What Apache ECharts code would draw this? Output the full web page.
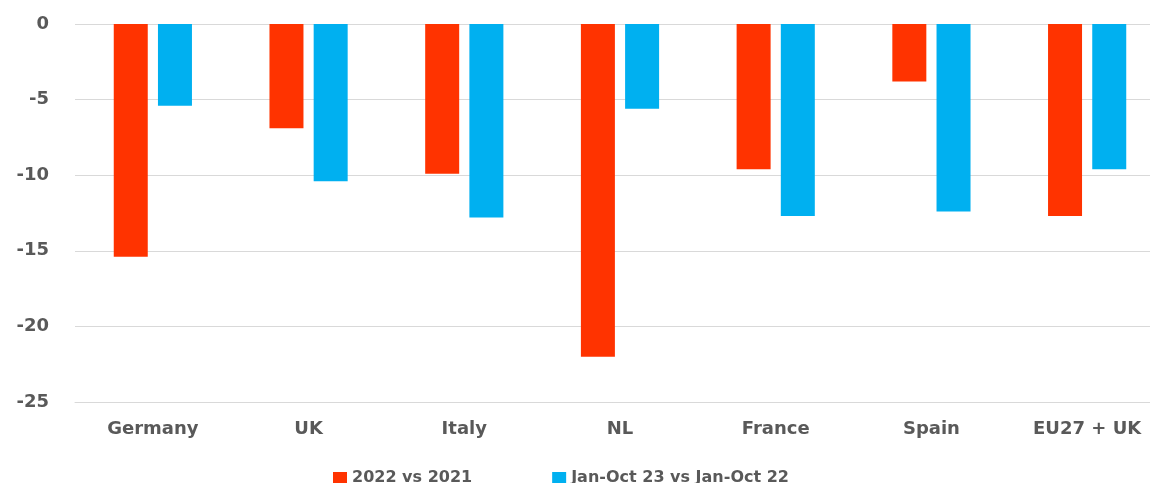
<!DOCTYPE html>
<html>
<head>
<meta charset="utf-8">
<script src="https://cdn.jsdelivr.net/npm/echarts@6/dist/echarts.min.js"></script>
<style>
html,body{margin:0;padding:0;background:#fff;}
#chart{width:1150px;height:483px;}
</style>
</head>
<body>
<div id="chart"></div>
<script>
const categories = ['Germany', 'UK', 'Italy', 'NL', 'France', 'Spain', 'EU27 + UK'];
const series2022 = [-15.4, -6.9, -9.9, -22.0, -9.6, -3.8, -12.7];
const seriesJanOct = [-5.4, -10.4, -12.8, -5.6, -12.7, -12.4, -9.6];
const seriesNames = ['2022 vs 2021', 'Jan-Oct 23 vs Jan-Oct 22'];
const yTicks = { min: -25, max: 0, interval: 5 };

const chart = echarts.init(document.getElementById('chart'));
const font = 'DejaVu Sans';
chart.setOption({
  animation: false,
  backgroundColor: '#ffffff',
  grid: { left: 75, top: 24, bottom: 81, width: 1090, outerBoundsMode: 'none', containLabel: false },
  legend: {
    data: seriesNames,
    top: 465,
    left: 328,
    itemWidth: 14,
    itemHeight: 12,
    itemGap: 80,
    icon: 'rect',
    textStyle: { fontFamily: font, fontWeight: 'bold', fontSize: 16, color: '#595959' }
  },
  xAxis: {
    type: 'category',
    data: categories,
    axisLine: { onZero: false, lineStyle: { color: '#d9d9d9', width: 1 } },
    axisTick: { show: false },
    axisLabel: { margin: 18, fontFamily: font, fontWeight: 'bold', fontSize: 18, color: '#595959' }
  },
  yAxis: {
    type: 'value',
    min: yTicks.min,
    max: yTicks.max,
    interval: yTicks.interval,
    axisLine: { show: false },
    axisTick: { show: false },
    splitLine: { lineStyle: { color: '#d9d9d9', width: 1 } },
    axisLabel: { margin: 26, fontFamily: font, fontWeight: 'bold', fontSize: 18, color: '#595959' }
  },
  series: [
    { name: seriesNames[0], type: 'bar', data: series2022, barWidth: 34, barGap: '30%', itemStyle: { color: '#FF3300' } },
    { name: seriesNames[1], type: 'bar', data: seriesJanOct, barWidth: 34, barGap: '30%', itemStyle: { color: '#00B0F0' } }
  ]
});
</script>
</body>
</html>
